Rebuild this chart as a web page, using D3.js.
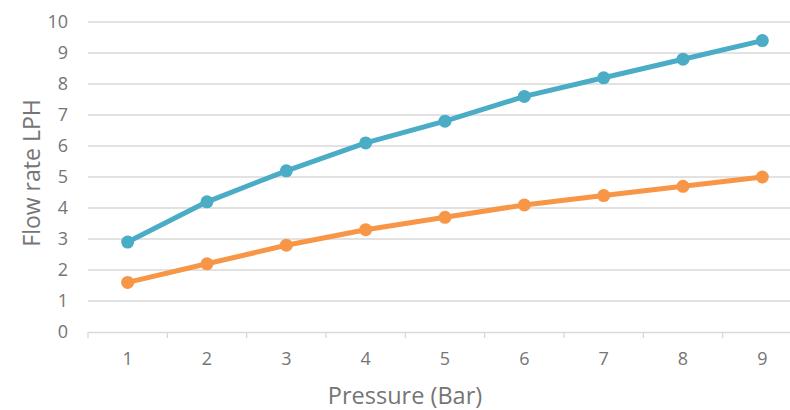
<!DOCTYPE html>
<html>
<head>
<meta charset="utf-8">
<script src="https://cdn.jsdelivr.net/npm/d3@7"></script>
<style>
  body { margin: 0; background: #fff; }
  text { font-family: "Open Sans", sans-serif; fill: #757575; }
</style>
</head>
<body>
<svg id="chart" width="790" height="410"></svg>
<script>
// data
const pressure = ["1", "2", "3", "4", "5", "6", "7", "8", "9"];
const flowBlue = [2.9, 4.2, 5.2, 6.1, 6.8, 7.6, 8.2, 8.8, 9.4];
const flowOrange = [1.6, 2.2, 2.8, 3.3, 3.7, 4.1, 4.4, 4.7, 5.0];
const yTicks = [0, 1, 2, 3, 4, 5, 6, 7, 8, 9, 10];

const series = [
  { values: flowBlue, color: "#4BACC6" },
  { values: flowOrange, color: "#F79646" }
];

const margin = { top: 22, left: 88 },
  width = 714, height = 310;

const svg = d3.select("#chart");
const g = svg.append("g").attr("transform", `translate(${margin.left},${margin.top})`);

const x = d3.scaleBand().domain(pressure).range([0, width]);
const y = d3.scaleLinear().domain([0, 10]).range([height, 0]);

// gridlines
g.selectAll(".grid")
  .data(yTicks.filter(d => d > 0))
  .join("line")
  .attr("x1", 0).attr("x2", width)
  .attr("y1", d => y(d)).attr("y2", d => y(d))
  .attr("stroke", "#D9D9D9").attr("stroke-width", 1.3);

// y axis labels
const yAxis = d3.axisLeft(y).tickValues(yTicks).tickSize(0).tickPadding(20);
g.append("g").call(yAxis)
  .call(s => s.select(".domain").remove())
  .selectAll("text").style("font-size", "18px").attr("fill", "#757575");

// x axis
const xAxis = d3.axisBottom(x).tickSize(0).tickPadding(20);
const xg = g.append("g").attr("transform", `translate(0,${height})`).call(xAxis);
xg.select(".domain").attr("stroke", "#D9D9D9").attr("stroke-width", 1.3);
xg.selectAll("text").style("font-size", "18px").attr("fill", "#757575");

// category separators
const bounds = pressure.map(p => x(p)).concat([width]);
xg.selectAll(".sep")
  .data(bounds)
  .join("line")
  .attr("x1", d => d).attr("x2", d => d)
  .attr("y1", 0).attr("y2", 6)
  .attr("stroke", "#D9D9D9").attr("stroke-width", 1.3);

const cx = d => x(d) + x.bandwidth() / 2;

const line = d3.line()
  .x((d, i) => cx(pressure[i]))
  .y(d => y(d));

series.forEach(s => {
  g.append("path")
    .datum(s.values)
    .attr("d", line)
    .attr("fill", "none")
    .attr("stroke", s.color)
    .attr("stroke-width", 5)
    .attr("stroke-linejoin", "round");
  g.selectAll(null)
    .data(s.values)
    .join("circle")
    .attr("cx", (d, i) => cx(pressure[i]))
    .attr("cy", d => y(d))
    .attr("r", 6.5)
    .attr("fill", s.color);
});

// axis titles
svg.append("text")
  .attr("transform", `translate(31,173) rotate(-90)`)
  .attr("text-anchor", "middle")
  .attr("dominant-baseline", "central")
  .style("font-size", "23px")
  .text("Flow rate LPH");

svg.append("text")
  .attr("x", 405).attr("y", 395)
  .attr("text-anchor", "middle")
  .attr("dominant-baseline", "central")
  .style("font-size", "23.5px")
  .text("Pressure (Bar)");
</script>
</body>
</html>
